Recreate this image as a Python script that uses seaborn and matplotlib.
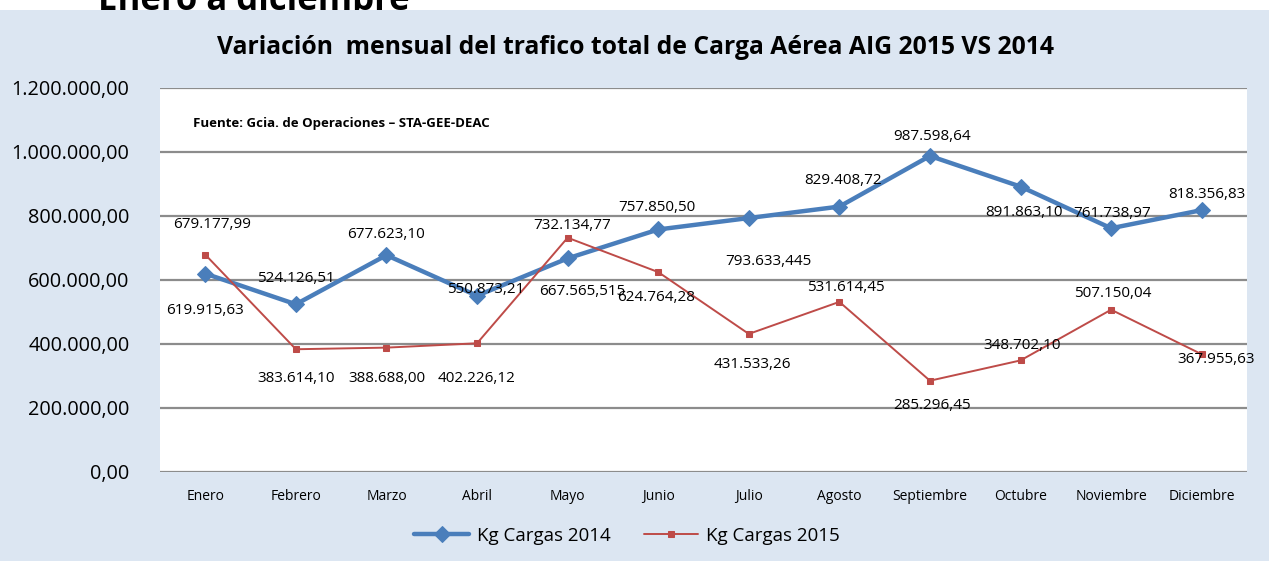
import numpy as np
import pandas as pd
import matplotlib
matplotlib.use("Agg")
import matplotlib.pyplot as plt
import seaborn as sns
from matplotlib.patches import Rectangle
from matplotlib.ticker import FuncFormatter

meses = ["Enero", "Febrero", "Marzo", "Abril", "Mayo", "Junio", "Julio",
         "Agosto", "Septiembre", "Octubre", "Noviembre", "Diciembre"]
kg_2014 = [619915.63, 524126.51, 677623.10, 550873.21, 667565.515, 757850.50,
           793633.445, 829408.72, 987598.64, 891863.10, 761738.97, 818356.83]
kg_2015 = [679177.99, 383614.10, 388688.00, 402226.12, 732134.77, 624764.28,
           431533.26, 531614.45, 285296.45, 348702.10, 507150.04, 367955.63]
etiq_2014 = ["619.915,63", "524.126,51", "677.623,10", "550.873,21", "667.565,515", "757.850,50",
             "793.633,445", "829.408,72", "987.598,64", "891.863,10", "761.738,97", "818.356,83"]
etiq_2015 = ["679.177,99", "383.614,10", "388.688,00", "402.226,12", "732.134,77", "624.764,28",
             "431.533,26", "531.614,45", "285.296,45", "348.702,10", "507.150,04", "367.955,63"]

# label offsets in pixels (dx, dy), placed by hand like in the excel chart
off_2014 = [(0, -37), (0, 26), (0, 21), (9, 6), (15, -33), (-1, 22),
            (20, -43), (4, 26), (2, 19), (3, -26), (1, 15), (5, 16)]
off_2015 = [(7, 30), (0, -29), (0, -31), (0, -35), (4, 12), (-2, -25),
            (4, -31), (7, 14), (2, -25), (2, 15), (2, 16), (14, -5)]

df = pd.DataFrame({"Mes": meses * 2,
                   "Kg": kg_2014 + kg_2015,
                   "Serie": ["Kg Cargas 2014"] * 12 + ["Kg Cargas 2015"] * 12})

sns.set_style("white")
plt.rcParams["font.family"] = ["Open Sans", "DejaVu Sans"]
plt.rcParams["text.color"] = "black"
plt.rcParams["xtick.color"] = "black"
plt.rcParams["ytick.color"] = "black"

W, H = 1269, 561
fig = plt.figure(figsize=(W / 100, H / 100), dpi=100, facecolor="white")
fig.patches.append(Rectangle((0, 0), 1, (H - 10) / H, transform=fig.transFigure,
                             facecolor="#DCE6F2", edgecolor="none", zorder=-0.5))
fig.text(98 / W, 1 - 10 / H, "Enero a diciembre", fontsize=25, fontweight="bold",
         ha="left", va="baseline", zorder=-1)

ax = fig.add_axes([160 / W, 1 - 472 / H, (1247 - 160) / W, (472 - 88) / H])
ax.set_zorder(1)
ax.set_facecolor("white")

azul = "#4A7EBB"
rojo = "#BE4B48"
sns.lineplot(data=df[df.Serie == "Kg Cargas 2014"], x="Mes", y="Kg", ax=ax, color=azul,
             linewidth=3.2, marker="D", markersize=8, markeredgecolor=azul,
             label="Kg Cargas 2014", sort=False)
sns.lineplot(data=df[df.Serie == "Kg Cargas 2015"], x="Mes", y="Kg", ax=ax, color=rojo,
             linewidth=1.4, marker="s", markersize=5, markeredgecolor=rojo,
             label="Kg Cargas 2015", sort=False)

for i in range(12):
    ax.annotate(etiq_2014[i], (i, kg_2014[i]), xytext=off_2014[i], textcoords="offset pixels",
                ha="center", va="center", fontsize=11, color="black", zorder=5)
    ax.annotate(etiq_2015[i], (i, kg_2015[i]), xytext=off_2015[i], textcoords="offset pixels",
                ha="center", va="center", fontsize=11, color="black", zorder=5)

ax.set_xlim(-0.5, 11.5)
ax.set_ylim(0, 1200000)
ax.set_yticks(np.arange(0, 1200001, 200000))
ax.yaxis.set_major_formatter(FuncFormatter(
    lambda v, p: f"{v:,.2f}".replace(",", "X").replace(".", ",").replace("X", ".")))
ax.grid(axis="y", color="#8C8C8C", linewidth=1.6)
ax.set_axisbelow(True)
for s in ax.spines.values():
    s.set_visible(False)
ax.tick_params(axis="y", length=0, pad=22, labelsize=14.3)
ax.tick_params(axis="x", length=0, pad=12, labelsize=10)
ax.set_xlabel("")
ax.set_ylabel("")

fig.text(636 / W, 1 - 47 / H, "Variación  mensual del trafico total de Carga Aérea AIG 2015 VS 2014",
         ha="center", va="center", fontsize=17.8, fontweight="bold")
ax.text((193 - 160) / (1247 - 160), 1 - (123 - 88) / (472 - 88),
        "Fuente: Gcia. de Operaciones – STA-GEE-DEAC",
        transform=ax.transAxes, ha="left", va="center", fontsize=9.5, fontweight="bold")

ax.legend(loc="center", bbox_to_anchor=((627 - 160) / (1247 - 160), -(536 - 472) / (472 - 88)),
          ncol=2, frameon=False, fontsize=13.5, handlelength=2.9, columnspacing=1.76,
          handletextpad=0.43)

fig.savefig("out.png", dpi=100, facecolor=fig.get_facecolor())
